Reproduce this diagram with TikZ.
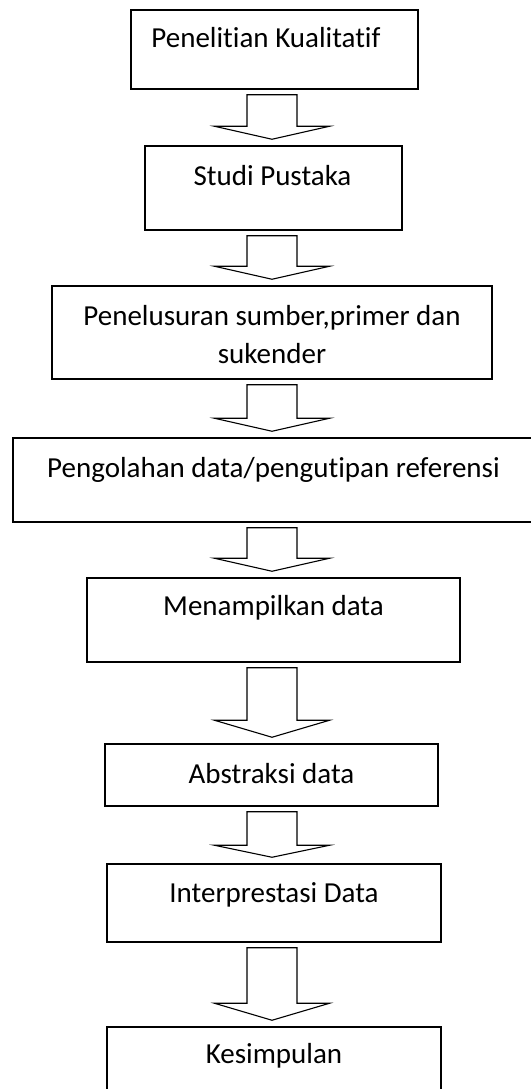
\documentclass[tikz,border=0pt]{standalone}
\usepackage{fontspec}
\setmainfont[Ligatures=NoCommon]{Carlito}
\usetikzlibrary{calc, positioning}

% block arrow from the bottom of one box to the top of the next
\newcommand{\flowarrow}[3]{%
  \draw[blockarrow] let \p1 = (#1.south), \p2 = (#2.north) in
    ({123.5pt},{\y1-2.5pt}) -- ({123.5pt},{\y2+3pt+#3}) -- ({107.25pt},{\y2+3pt+#3})
    -- ({136pt},{\y2+3pt}) -- ({164.75pt},{\y2+3pt+#3}) -- ({148.5pt},{\y2+3pt+#3})
    -- ({148.5pt},{\y1-2.5pt}) -- cycle;
}

\begin{document}
\begin{tikzpicture}
              [x=0.5pt, y=-0.5pt,
               box/.style={draw, line width=0.75pt, inner sep=0pt},
               boxtext/.style={inner sep=0pt, align=center, font=\fontsize{14.5}{19}\selectfont},
               blockarrow/.style={draw, line width=0.55pt, line join=miter}]
              \useasboundingbox (0,0) rectangle (531,1089);
              % boxes %
              \node[box, minimum width=143.5pt, minimum height=39.5pt] (b1) at (274.5,49.5) {};
              \node[box, minimum width=128.5pt, minimum height=42pt] (b2) at (273.5,188) {};
              \node[box, minimum width=220pt, minimum height=46.5pt] (b3) at (272,332.5) {};
              \node[box, minimum width=260.5pt, minimum height=42pt] (b4) at (273.5,480) {};
              \node[box, minimum width=186.5pt, minimum height=42pt] (b5) at (273.5,620) {};
              \node[box, minimum width=166.5pt, minimum height=31pt] (b6) at (271.5,775) {};
              \node[box, minimum width=167pt, minimum height=39pt] (b7) at (274,903) {};
              \node[box, minimum width=167pt, minimum height=36.5pt] (b8) at (274,1063.5) {};

              % texts %
              \node[boxtext] (t1) at (266,38) {Penelitian Kualitatif};
              \node[boxtext] (t2) at (272.5,176) {Studi Pustaka};
              \node[boxtext] (t3) at (272,335) {Penelusuran sumber,primer dan\\sukender};
              \node[boxtext] (t4) at (273.5,470) {Pengolahan data/pengutipan referensi};
              \node[boxtext] (t5) at (273.5,608) {Menampilkan data};
              \node[boxtext] (t6) at (271.5,774) {Abstraksi data};
              \node[boxtext] (t7) at (274,895) {Interprestasi Data};
              \node[boxtext] (t8) at (274,1056) {Kesimpulan};

              % arrows %
              \flowarrow{b1}{b2}{6.5pt}
              \flowarrow{b2}{b3}{6.5pt}
              \flowarrow{b3}{b4}{6.5pt}
              \flowarrow{b4}{b5}{6.5pt}
              \flowarrow{b5}{b6}{8.5pt}
              \flowarrow{b6}{b7}{6pt}
              \flowarrow{b7}{b8}{8.5pt}
            \end{tikzpicture}
\end{document}
